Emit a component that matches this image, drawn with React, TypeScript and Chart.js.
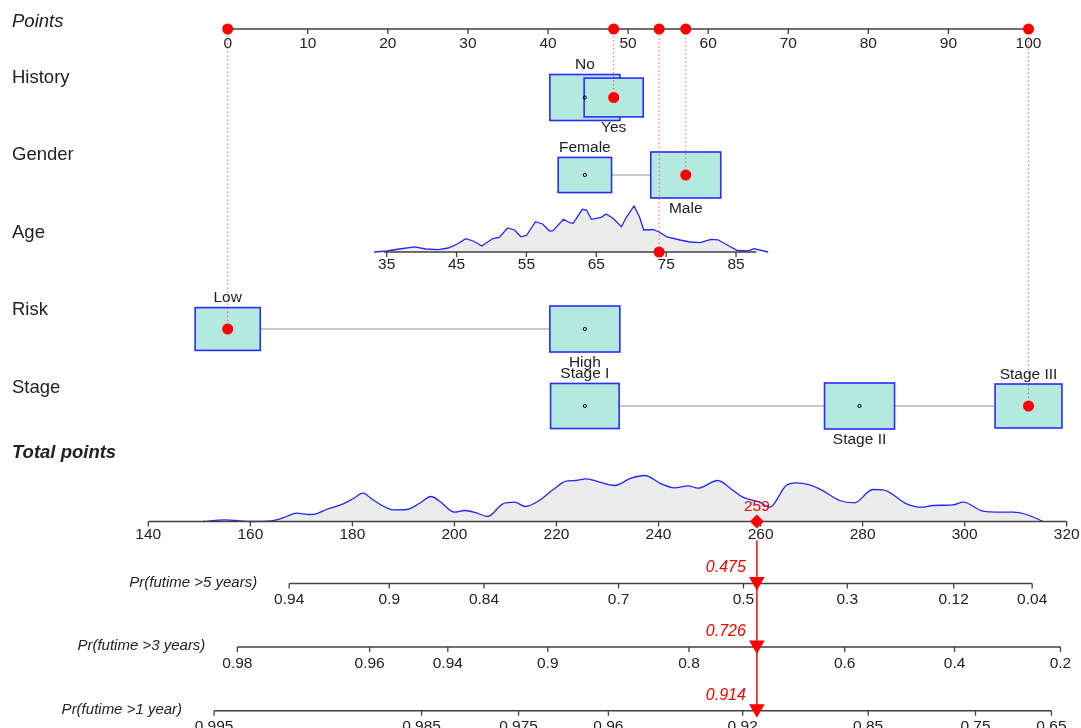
import React, { useEffect, useRef } from 'react';
import { Chart, registerables } from 'chart.js';

Chart.register(...registerables);

// ------------------------------------------------------------------ data
const POINT_TICKS = [0, 10, 20, 30, 40, 50, 60, 70, 80, 90, 100];

const HISTORY_LEVELS = ['No', 'Yes'];
const HISTORY_POINTS = [44.6, 48.2];
const HISTORY_COUNTS = [292, 208];

const GENDER_LEVELS = ['Female', 'Male'];
const GENDER_POINTS = [44.6, 57.2];
const GENDER_COUNTS = [184, 316];

const AGE_TICKS = [35, 45, 55, 65, 75, 85];
const AGE_RANGE = [34.6, 87.9];
const AGE_POINTS_AT_35 = 19.855;
const AGE_POINTS_PER_YEAR = 0.8724;
const AGE_DENS_X = [33.2, 35, 36.8, 39, 40.6, 42.4, 43.8, 45.1, 46.3, 47.4, 48.6, 50.2, 51.1, 52.3, 53.3, 54.2, 55, 56.3, 57.3, 58.3, 58.8, 60.3, 61.2, 61.7, 63, 63.6, 64.3, 65, 65.7, 66.4, 67.4, 68.6, 69.3, 70.4, 71.2, 71.8, 73.1, 74, 75.1, 77, 78.4, 79.9, 81.4, 82.4, 83.8, 85.2, 86.6, 87.6, 89.6];
const AGE_DENS_Y = [0, 1, 3, 5.2, 3, 2.3, 4, 8, 13.3, 11, 6, 13.5, 14.5, 24, 22, 15.2, 16.5, 30.3, 28, 21, 21.3, 32.7, 29.3, 28.7, 42.7, 42, 32.7, 33.7, 34.7, 38, 33.7, 25.3, 34.7, 46, 34.7, 22, 22.5, 20, 15.2, 12, 10, 9.3, 12.7, 12.2, 6.8, 1.5, 1, 3.3, 0];

const RISK_LEVELS = ['Low', 'High'];
const RISK_POINTS = [0, 44.6];
const RISK_COUNTS = [232, 268];

const STAGE_LEVELS = ['Stage I', 'Stage II', 'Stage III'];
const STAGE_POINTS = [44.6, 78.9, 100];
const STAGE_COUNTS = [167, 174, 159];

const TOTAL_TICKS = [140, 160, 180, 200, 220, 240, 260, 280, 300, 320];
const TOTAL_DENS_X = [150.8, 155, 157.9, 160, 163.2, 165.1, 167.1, 169, 171.6, 172.9, 174.9, 178.2, 180.1, 182.1, 184, 188, 190.6, 193.2, 195.4, 197.1, 200, 202, 204.3, 206.5, 209.5, 211.8, 213.9, 216.6, 219.3, 221.9, 223.8, 225.8, 227.8, 231.4, 234.6, 237.3, 240.5, 243.1, 245.8, 247.7, 251.6, 254.6, 256.5, 259.8, 261.8, 265, 267, 269.6, 271.9, 275.5, 278.4, 282, 284, 288.6, 291.5, 293.8, 297.7, 299.7, 303.6, 306.9, 309.5, 312.1, 315.4];
const TOTAL_DENS_Y = [0, 1.7, 0.7, 0, 0.3, 1.7, 5, 8.3, 7, 7.7, 12, 17.7, 22.7, 28.3, 21.7, 11.7, 12, 18.3, 25, 20.3, 9.3, 11, 8.7, 5, 17.7, 19.3, 15, 21, 31.7, 40.3, 41, 42.7, 40.3, 36, 43.3, 46, 37.7, 33.7, 35.7, 33.3, 41, 31, 24.3, 19.3, 14.3, 36, 38.7, 36.7, 31.7, 21, 18.7, 32, 31.7, 17.7, 14.3, 16, 16.7, 19.3, 10.3, 9.3, 9.3, 7, 0];

const PATIENT_HISTORY = 'Yes';
const PATIENT_GENDER = 'Male';
const PATIENT_AGE = 74;
const PATIENT_RISK = 'Low';
const PATIENT_STAGE = 'Stage III';

const SURV_LABELS = ['Pr(futime >5 years)', 'Pr(futime >3 years)', 'Pr(futime >1 year)'];
const SURV_PRED = [0.475, 0.726, 0.914];
const SURV_TICKS_5Y = [0.94, 0.9, 0.84, 0.7, 0.5, 0.3, 0.12, 0.04];
const SURV_TICKS_3Y = [0.98, 0.96, 0.94, 0.9, 0.8, 0.6, 0.4, 0.2];
const SURV_TICKS_1Y = [0.995, 0.985, 0.975, 0.96, 0.92, 0.85, 0.75, 0.65];
const HAZARD_PER_POINT = 0.027137;

// ------------------------------------------------------------------ layout / style
const W = 1081;
const H = 728;
const PX_PER_POINT = 8.008;
const POINT0_PX = 227.7;
const X_MIN = -POINT0_PX / PX_PER_POINT;
const X_MAX = X_MIN + W / PX_PER_POINT;
const TOTAL_AXIS = { t0: 140, t1: 320, x0: -9.915, x1: 104.77 };

const ROW = { points: 29, history: 97.5, gender: 175, age: 252, risk: 329, stage: 406, total: 521.5 };
const SURV_ROWS = [583.4, 646.9, 710.7];
const NAME_Y = { Points: 21.5, History: 77.5, Gender: 155, Age: 232.5, Risk: 310, Stage: 387.5, Total: 453 };

const BOX_W = 70;
const BOX_H = 46;
const DENS_H = 46;
const TICK_LEN = 5;
const FONT = '"Liberation Sans", Arial, Helvetica, sans-serif';
const TEXT = '#222222';
const AXIS = '#404040';
const RED = '#ff0000';
const BOX_FILL = '#b3e9de';
const BOX_EDGE = '#2b2bff';
const DENS_FILL = '#ececec';
const DENS_LINE = '#2424ff';

// ------------------------------------------------------------------ helpers
const agePts = (a: number) => AGE_POINTS_AT_35 + (a - 35) * AGE_POINTS_PER_YEAR;
const totalToX = (t: number) =>
  TOTAL_AXIS.x0 + ((t - TOTAL_AXIS.t0) * (TOTAL_AXIS.x1 - TOTAL_AXIS.x0)) / (TOTAL_AXIS.t1 - TOTAL_AXIS.t0);
const cll = (p: number) => Math.log(-Math.log(p));

const CATEGORICAL = [
  { levels: HISTORY_LEVELS, points: HISTORY_POINTS, counts: HISTORY_COUNTS, sel: PATIENT_HISTORY, y: ROW.history },
  { levels: GENDER_LEVELS, points: GENDER_POINTS, counts: GENDER_COUNTS, sel: PATIENT_GENDER, y: ROW.gender },
  { levels: RISK_LEVELS, points: RISK_POINTS, counts: RISK_COUNTS, sel: PATIENT_RISK, y: ROW.risk },
  { levels: STAGE_LEVELS, points: STAGE_POINTS, counts: STAGE_COUNTS, sel: PATIENT_STAGE, y: ROW.stage },
];

const selPoint = (v: typeof CATEGORICAL[number]) => v.points[v.levels.indexOf(v.sel)];
const CONTRIB = [
  { x: selPoint(CATEGORICAL[0]), y: ROW.history },
  { x: selPoint(CATEGORICAL[1]), y: ROW.gender },
  { x: agePts(PATIENT_AGE), y: ROW.age },
  { x: selPoint(CATEGORICAL[2]), y: ROW.risk },
  { x: selPoint(CATEGORICAL[3]), y: ROW.stage },
];
const TOTAL_PATIENT = CONTRIB.reduce((s, c) => s + c.x, 0);
const SURV_TICKS = [SURV_TICKS_5Y, SURV_TICKS_3Y, SURV_TICKS_1Y];
const survToX = (p: number, k: number) =>
  totalToX(TOTAL_PATIENT + (cll(p) - cll(SURV_PRED[k])) / HAZARD_PER_POINT);

const boxSize = (counts: number[], i: number) => {
  const s = Math.sqrt(counts[i] / Math.max(...counts));
  return { w: BOX_W * s, h: BOX_H * s };
};

// ------------------------------------------------------------------ plugin for boxes, ticks, text
const nomogramPlugin = {
  id: 'nomogram',
  beforeDatasetsDraw(chart: any) {
    const { ctx } = chart;
    const xs = chart.scales.x;
    const ys = chart.scales.y;
    ctx.save();
    // connectors + boxes
    CATEGORICAL.forEach((v) => {
      const y = ys.getPixelForValue(v.y);
      const px = v.points.map((p) => xs.getPixelForValue(p));
      ctx.strokeStyle = '#c8c8c8';
      ctx.lineWidth = 2;
      ctx.beginPath();
      ctx.moveTo(Math.min(...px), y);
      ctx.lineTo(Math.max(...px), y);
      ctx.stroke();
      px.forEach((x, i) => {
        const { w, h } = boxSize(v.counts, i);
        ctx.fillStyle = BOX_FILL;
        ctx.fillRect(x - w / 2, y - h / 2, w, h);
        ctx.strokeStyle = BOX_EDGE;
        ctx.lineWidth = 1.6;
        ctx.strokeRect(x - w / 2, y - h / 2, w, h);
      });
      px.forEach((x, i) => {
        if (v.levels[i] === v.sel) return;
        ctx.strokeStyle = '#000';
        ctx.lineWidth = 1;
        ctx.beginPath();
        ctx.arc(x, y, 1.6, 0, Math.PI * 2);
        ctx.stroke();
      });
    });
    // tick marks
    ctx.strokeStyle = AXIS;
    ctx.lineWidth = 1.3;
    const ticks = (vals: number[], toX: (v: number) => number, rowY: number) => {
      const y = ys.getPixelForValue(rowY);
      vals.forEach((t) => {
        const x = xs.getPixelForValue(toX(t));
        ctx.beginPath();
        ctx.moveTo(x, y);
        ctx.lineTo(x, y + TICK_LEN);
        ctx.stroke();
      });
    };
    ticks(POINT_TICKS, (t) => t, ROW.points);
    ticks(AGE_TICKS, agePts, ROW.age);
    ticks(TOTAL_TICKS, totalToX, ROW.total);
    SURV_TICKS.forEach((tk, k) => ticks(tk, (p) => survToX(p, k), SURV_ROWS[k]));
    ctx.restore();
  },
  afterDatasetsDraw(chart: any) {
    const { ctx } = chart;
    const xs = chart.scales.x;
    const ys = chart.scales.y;
    ctx.save();
    ctx.textBaseline = 'middle';
    // tick labels
    ctx.fillStyle = TEXT;
    ctx.textAlign = 'center';
    ctx.font = `15.5px ${FONT}`;
    const labels = (vals: number[], toX: (v: number) => number, rowY: number, dy: number) => {
      const y = ys.getPixelForValue(rowY) + dy;
      vals.forEach((t) => ctx.fillText(String(t), xs.getPixelForValue(toX(t)), y));
    };
    labels(POINT_TICKS, (t) => t, ROW.points, 15);
    labels(AGE_TICKS, agePts, ROW.age, 12.5);
    labels(TOTAL_TICKS, totalToX, ROW.total, 13);
    SURV_TICKS.forEach((tk, k) => labels(tk, (p) => survToX(p, k), SURV_ROWS[k], 16.5));
    // level labels
    CATEGORICAL.forEach((v) => {
      const y = ys.getPixelForValue(v.y);
      v.levels.forEach((lv, i) => {
        const x = xs.getPixelForValue(v.points[i]);
        const { h } = boxSize(v.counts, i);
        const ly = i % 2 === 0 ? y - h / 2 - 9.5 : y + h / 2 + 11;
        ctx.fillText(lv, x, ly);
      });
    });
    // variable names
    ctx.textAlign = 'left';
    ctx.font = `italic 18.5px ${FONT}`;
    ctx.fillText('Points', 12, NAME_Y.Points);
    ctx.font = `18.5px ${FONT}`;
    ctx.fillText('History', 12, NAME_Y.History);
    ctx.fillText('Gender', 12, NAME_Y.Gender);
    ctx.fillText('Age', 12, NAME_Y.Age);
    ctx.fillText('Risk', 12, NAME_Y.Risk);
    ctx.fillText('Stage', 12, NAME_Y.Stage);
    ctx.font = `italic bold 18.5px ${FONT}`;
    ctx.fillText('Total points', 12, NAME_Y.Total);
    // survival axis names
    ctx.textAlign = 'right';
    ctx.font = `italic 15px ${FONT}`;
    SURV_LABELS.forEach((lab, k) => {
      const x0 = xs.getPixelForValue(survToX(SURV_TICKS[k][0], k));
      ctx.fillText(lab, x0 - 32, ys.getPixelForValue(SURV_ROWS[k]) - 1);
    });
    // red values
    ctx.fillStyle = RED;
    const tx = xs.getPixelForValue(totalToX(TOTAL_PATIENT));
    ctx.font = `italic 16px ${FONT}`;
    SURV_PRED.forEach((p, k) => {
      ctx.fillText(p.toFixed(3), tx - 11, ys.getPixelForValue(SURV_ROWS[k]) - 15.5);
    });
    ctx.textAlign = 'center';
    ctx.font = `15.5px ${FONT}`;
    ctx.fillText(String(Math.round(TOTAL_PATIENT)), tx, ys.getPixelForValue(ROW.total) - 15);
    ctx.restore();
  },
};

// ------------------------------------------------------------------ datasets
const lineDs = (pts: { x: number; y: number }[], extra: any = {}) => ({
  type: 'line',
  data: pts,
  borderColor: AXIS,
  borderWidth: 1.5,
  pointRadius: 0,
  fill: false,
  tension: 0,
  order: 8,
  ...extra,
});

function buildDatasets() {
  const ds: any[] = [];
  const maxAge = Math.max(...AGE_DENS_Y);
  ds.push(
    lineDs(
      AGE_DENS_X.map((a, i) => ({ x: agePts(a), y: ROW.age - (AGE_DENS_Y[i] / maxAge) * DENS_H })),
      { borderColor: DENS_LINE, borderWidth: 1.3, backgroundColor: DENS_FILL, fill: { value: ROW.age }, order: 10 }
    )
  );
  const maxTot = Math.max(...TOTAL_DENS_Y);
  ds.push(
    lineDs(
      TOTAL_DENS_X.map((t, i) => ({ x: totalToX(t), y: ROW.total - (TOTAL_DENS_Y[i] / maxTot) * DENS_H })),
      {
        borderColor: DENS_LINE,
        borderWidth: 1.3,
        backgroundColor: DENS_FILL,
        fill: { value: ROW.total },
        cubicInterpolationMode: 'monotone',
        order: 10,
      }
    )
  );
  // axis lines
  ds.push(lineDs([{ x: POINT_TICKS[0], y: ROW.points }, { x: POINT_TICKS[POINT_TICKS.length - 1], y: ROW.points }]));
  ds.push(lineDs([{ x: agePts(AGE_RANGE[0]), y: ROW.age }, { x: agePts(AGE_RANGE[1]), y: ROW.age }]));
  ds.push(
    lineDs([
      { x: totalToX(TOTAL_TICKS[0]), y: ROW.total },
      { x: totalToX(TOTAL_TICKS[TOTAL_TICKS.length - 1]), y: ROW.total },
    ])
  );
  SURV_TICKS.forEach((tk, k) =>
    ds.push(
      lineDs([
        { x: survToX(tk[0], k), y: SURV_ROWS[k] },
        { x: survToX(tk[tk.length - 1], k), y: SURV_ROWS[k] },
      ])
    )
  );
  // dotted projections
  CONTRIB.forEach((c) =>
    ds.push(
      lineDs([{ x: c.x, y: c.y }, { x: c.x, y: ROW.points }], {
        borderColor: 'rgba(255,0,0,0.6)',
        borderWidth: 1,
        borderDash: [1.5, 2.5],
        order: 5,
      })
    )
  );
  // red dots
  ds.push({
    type: 'scatter',
    data: [...CONTRIB.map((c) => ({ x: c.x, y: c.y })), ...CONTRIB.map((c) => ({ x: c.x, y: ROW.points }))],
    pointRadius: 5.5,
    pointBackgroundColor: RED,
    pointBorderWidth: 0,
    pointHoverRadius: 5.5,
    order: 1,
  });
  // total marker + arrow
  const tX = totalToX(TOTAL_PATIENT);
  ds.push(
    lineDs([{ x: tX, y: ROW.total + 19 }, { x: tX, y: SURV_ROWS[SURV_ROWS.length - 1] }], {
      borderColor: RED,
      borderWidth: 1.5,
      order: 3,
    })
  );
  ds.push({
    type: 'scatter',
    data: [{ x: tX, y: ROW.total }],
    pointStyle: 'rectRot',
    pointRadius: 7,
    pointBackgroundColor: RED,
    pointBorderWidth: 0,
    order: 2,
  });
  ds.push({
    type: 'scatter',
    data: SURV_ROWS.map((y) => ({ x: tX, y: y - 2 })),
    pointStyle: 'triangle',
    rotation: 180,
    pointRotation: 180,
    pointRadius: 9,
    pointBackgroundColor: RED,
    pointBorderWidth: 0,
    order: 2,
  });
  return ds;
}

export default function App() {
  const ref = useRef<HTMLCanvasElement>(null);
  useEffect(() => {
    document.body.style.margin = '0';
    const canvas = ref.current;
    if (!canvas) return;
    const chart = new Chart(canvas, {
      type: 'line',
      data: { datasets: buildDatasets() },
      options: {
        responsive: false,
        animation: false,
        devicePixelRatio: 1,
        events: [],
        layout: { padding: 0, autoPadding: false },
        plugins: { legend: { display: false }, tooltip: { enabled: false }, title: { display: false } },
        scales: {
          x: { type: 'linear', min: X_MIN, max: X_MAX, display: false },
          y: { type: 'linear', min: 0, max: H, reverse: true, display: false },
        },
      },
      plugins: [nomogramPlugin],
    } as any);
    return () => chart.destroy();
  }, []);
  return (
    <div style={{ width: W, height: H, background: '#fff' }}>
      <canvas ref={ref} width={W} height={H} style={{ display: 'block' }} />
    </div>
  );
}
